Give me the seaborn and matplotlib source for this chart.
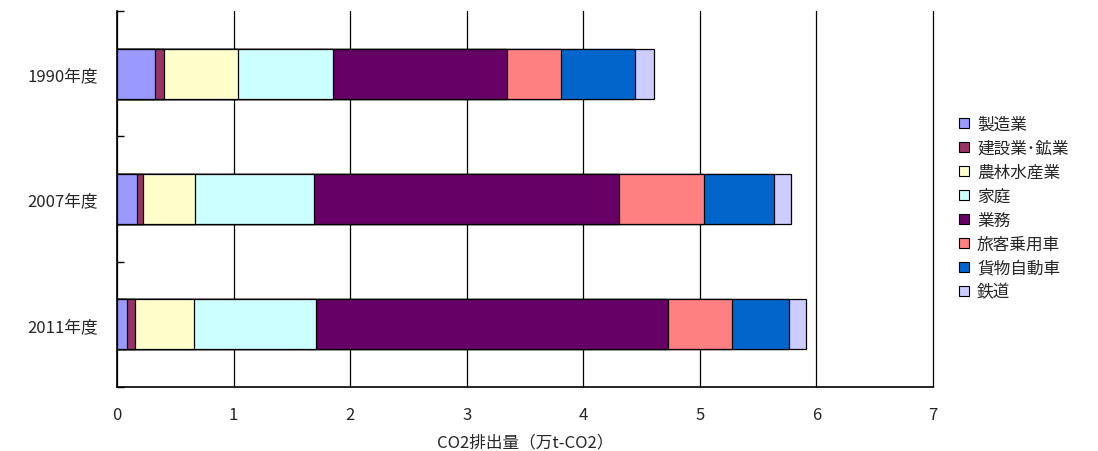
import numpy as np
import pandas as pd
import matplotlib.pyplot as plt
import seaborn as sns
from matplotlib.patches import Patch

years = ['1990年度', '2007年度', '2011年度']
sectors = ['製造業', '建設業･鉱業', '農林水産業', '家庭', '業務', '旅客乗用車', '貨物自動車', '鉄道']
colors = ['#9999FF', '#993366', '#FFFFCC', '#CCFFFF', '#660066', '#FF8080', '#0066CC', '#CCCCFF']

seizo = [0.323, 0.172, 0.088]
kensetsu = [0.076, 0.050, 0.067]
norin = [0.638, 0.449, 0.504]
katei = [0.818, 1.023, 1.050]
gyomu = [1.488, 2.609, 3.021]
ryokaku = [0.467, 0.736, 0.550]
kamotsu = [0.637, 0.601, 0.488]
tetsudo = [0.160, 0.145, 0.141]

df = pd.DataFrame({'year': years, '製造業': seizo, '建設業･鉱業': kensetsu, '農林水産業': norin,
                   '家庭': katei, '業務': gyomu, '旅客乗用車': ryokaku, '貨物自動車': kamotsu,
                   '鉄道': tetsudo})
cum = df[sectors].cumsum(axis=1)
cum['year'] = df['year']

sns.set_style('white')
plt.rcParams['font.family'] = ['Noto Sans CJK JP', 'DejaVu Sans']
fs = 12

fig = plt.figure(figsize=(10.98, 4.52), dpi=100)
ax = fig.add_axes([117/1098, 64/452, 816/1098, 376/452])

# stacked bars: draw cumulative totals from the last sector back to the first
for s, c in reversed(list(zip(sectors, colors))):
    sns.barplot(data=cum, x=s, y='year', orient='h', color=c, width=0.4,
                edgecolor='black', linewidth=0.9, saturation=1, ax=ax)

ax.set_xlim(0, 7)
ax.set_ylim(2.5, -0.5)
ax.set_xticks(range(8))
ax.grid(axis='x', color='black', linewidth=0.9)
for gl in ax.get_xgridlines():
    gl.set_clip_on(False)
ax.set_axisbelow(True)
ax.tick_params(axis='x', length=0, pad=14, labelsize=fs)
ax.set_yticks([0, 1, 2])
ax.set_yticklabels(years)
ax.set_yticks([-0.5, 0.5, 1.5, 2.5], minor=True)
ax.tick_params(axis='y', which='major', length=0, pad=14, labelsize=fs)
ax.tick_params(axis='y', which='minor', direction='in', length=5, width=1, color='black', left=True)
ax.set_xlabel('CO2排出量（万t-CO2）', fontsize=fs, labelpad=7)
ax.set_ylabel('')

for side in ['top', 'right']:
    ax.spines[side].set_visible(False)
for side in ['left', 'bottom']:
    ax.spines[side].set_color('black')
    ax.spines[side].set_linewidth(1.2)

handles = [Patch(facecolor=c, edgecolor='black', linewidth=0.8, label=s) for s, c in zip(sectors, colors)]
fig.legend(handles=handles, loc='upper left', bbox_to_anchor=(952/1098, 1 - 110/452),
           frameon=False, fontsize=fs, handlelength=0.6, handleheight=0.6,
           handletextpad=0.5, labelspacing=0.42, borderaxespad=0)

fig.savefig('out.png', dpi=100)
